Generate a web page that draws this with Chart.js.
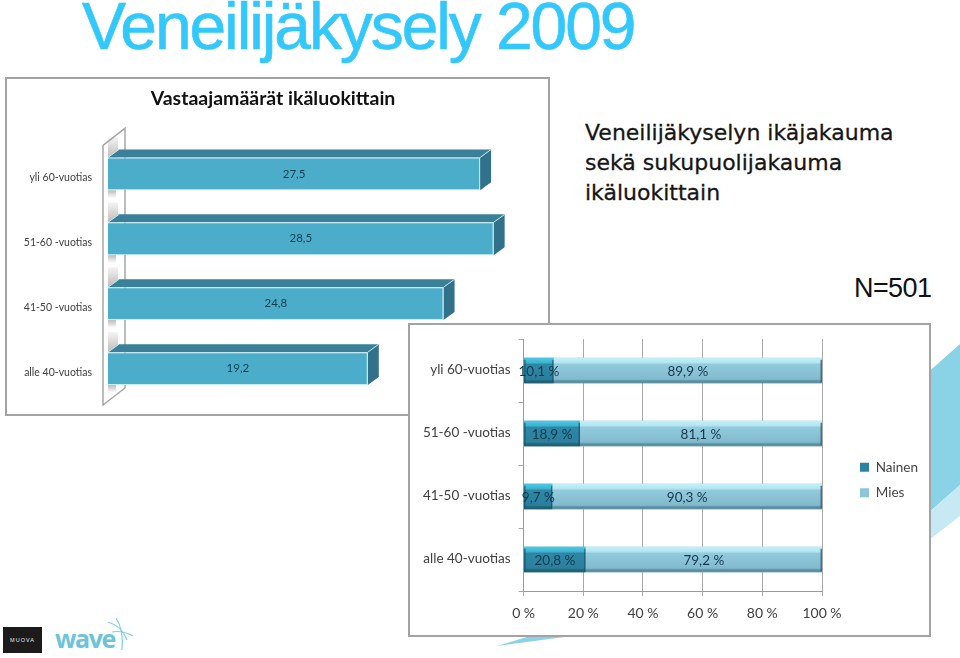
<!DOCTYPE html>
<html>
<head>
<meta charset="utf-8">
<title>Veneilijäkysely 2009</title>
<script src="https://cdn.jsdelivr.net/npm/chart.js@4/dist/chart.umd.min.js"></script>
<style>
html, body { margin: 0; width: 960px; height: 658px; overflow: hidden; background: #fff; }
.abs { position: absolute; white-space: nowrap; }
.panel { position: absolute; background: #fff; outline: 2px solid #a3a3a3; outline-offset: -2px; }
#heading { left: 82px; top: 1px; font: 66px/50px "Liberation Sans", sans-serif; color: #33c8fb; letter-spacing: -2.1px; -webkit-text-stroke: .6px #33c8fb; }
#subhead { left: 585px; top: 118px; font: 22px/30px "DejaVu Sans", sans-serif; color: #161616; -webkit-text-stroke: .3px #161616; }
#count { left: 854px; top: 273px; font: 27px "Liberation Sans", sans-serif; color: #111; letter-spacing: -.6px; }
#decor { position: absolute; left: 0; top: 0; }
#muova { left: 3px; top: 627px; width: 39px; height: 26px; background: #1c1a1a; color: #eee; font: 5.5px/26px "Liberation Sans", sans-serif; text-align: center; letter-spacing: 1px; }
#wave { left: 55px; top: 621px; font: bold 25px "Open Sans", sans-serif; color: #6cc3da; letter-spacing: -1.4px; }
</style>
</head>
<body>
<svg id="decor" width="960" height="658">
  <polygon points="925,375 960,344 960,485 925,516" fill="#8ad3e6"/>
  <polygon points="925,516 960,485 960,516 925,543" fill="#c6e9f3"/>
  <polygon points="497,646 530,636 572,636" fill="#8ad3e6"/>
  <g stroke="#7fd0e2" fill="none" stroke-width="1.2">
    <path d="M108 622 Q122 626 127 640"/>
    <path d="M116 618 Q124 630 122 650"/>
    <path d="M112 632 Q122 630 133 636"/>
  </g>
</svg>
<div class="abs" id="heading">Veneilijäkysely 2009</div>
<div class="abs" id="subhead">Veneilijäkyselyn ikäjakauma<br>sekä sukupuolijakauma<br>ikäluokittain</div>
<div class="abs" id="count">N=501</div>
<div class="abs" id="muova">MUOVA</div>
<div class="abs" id="wave">wave</div>

<div class="panel" style="left:5px;top:77px;width:545px;height:339px"><canvas id="ageChart" width="545" height="339"></canvas></div>
<div class="panel" style="left:408px;top:323px;width:523px;height:314px"><canvas id="genderChart" width="523" height="314"></canvas></div>

<script>
const ageGroups = ["yli 60-vuotias", "51-60 -vuotias", "41-50 -vuotias", "alle 40-vuotias"];
const respondents = [27.5, 28.5, 24.8, 19.2];
const women = [10.1, 18.9, 9.7, 20.8];
const men = [89.9, 81.1, 90.3, 79.2];
const percentTicks = [0, 20, 40, 60, 80, 100];

Chart.defaults.animation = false;
Chart.defaults.font.family = "Lato, sans-serif";

const comma = v => v.toFixed(1).replace(".", ",");

// value text in the middle of each bar
const barText = {
  id: "barText",
  afterDatasetsDraw(chart, args, opts) {
    const ctx = chart.ctx;
    ctx.save();
    ctx.font = opts.font;
    ctx.fillStyle = opts.color;
    ctx.textAlign = "center";
    ctx.textBaseline = "middle";
    chart.data.datasets.forEach((ds, i) => {
      chart.getDatasetMeta(i).data.forEach((bar, j) => {
        ctx.fillText(comma(ds.data[j]) + opts.suffix, (bar.x + bar.base) / 2, bar.y + opts.dy);
      });
    });
    ctx.restore();
  }
};

// fake 3D for the first chart: the wall behind the bars, top and side faces
const extrude = {
  id: "extrude",
  beforeDatasetsDraw(chart) {
    const ctx = chart.ctx, area = chart.chartArea;
    const dx = 11, dy = 8, wallX = area.left - 5, wallW = 22, wallRise = 17;
    const bars = chart.getDatasetMeta(0).data;
    ctx.save();

    bars.forEach(bar => {
      const top = bar.y - bar.height / 2, bottom = bar.y + bar.height / 2;
      let g = ctx.createLinearGradient(0, top - 24, 0, top);
      g.addColorStop(0, "rgba(150,140,140,0)");
      g.addColorStop(1, "rgba(150,140,140,.6)");
      ctx.fillStyle = g;
      ctx.fillRect(area.left, top - 20, 10, 20);
      g = ctx.createLinearGradient(0, bottom, 0, bottom + 8);
      g.addColorStop(0, "rgba(150,140,140,.6)");
      g.addColorStop(1, "rgba(150,140,140,0)");
      ctx.fillStyle = g;
      ctx.fillRect(area.left, bottom, 8, 8);
    });

    ctx.strokeStyle = "#a6a6a6";
    ctx.lineWidth = 1.5;
    ctx.beginPath();
    ctx.moveTo(wallX, area.top + 4);
    ctx.lineTo(wallX + wallW, area.top + 4 - wallRise);
    ctx.lineTo(wallX + wallW, area.bottom - 13);
    ctx.lineTo(wallX, area.bottom - 13 + wallRise);
    ctx.closePath();
    ctx.stroke();

    bars.forEach(bar => {
      const top = bar.y - bar.height / 2, bottom = bar.y + bar.height / 2;
      ctx.fillStyle = "#3a8099";
      ctx.beginPath();
      ctx.moveTo(bar.base, top);
      ctx.lineTo(bar.base + dx, top - dy);
      ctx.lineTo(bar.x + dx, top - dy);
      ctx.lineTo(bar.x, top);
      ctx.closePath();
      ctx.fill();
      ctx.fillStyle = "#31728a";
      ctx.beginPath();
      ctx.moveTo(bar.x, top);
      ctx.lineTo(bar.x + dx, top - dy);
      ctx.lineTo(bar.x + dx, bottom - dy);
      ctx.lineTo(bar.x, bottom);
      ctx.closePath();
      ctx.fill();
      ctx.strokeStyle = "#bfe8f0";
      ctx.lineWidth = 1;
      ctx.beginPath();
      ctx.moveTo(bar.x, top);
      ctx.lineTo(bar.x + dx, top - dy);
      ctx.moveTo(bar.base, top);
      ctx.lineTo(bar.base + dx, top - dy);
      ctx.stroke();
    });
    ctx.restore();
  }
};

// glossy bevel over the bars of the second chart
const bevel = {
  id: "bevel",
  afterDatasetsDraw(chart) {
    const ctx = chart.ctx;
    ctx.save();
    chart.getDatasetMeta(0).data.forEach((_, j) => {
      [0, 1].forEach(i => {
        const bar = chart.getDatasetMeta(i).data[j];
        const top = bar.y - bar.height / 2, h = bar.height;
        const w = bar.x - bar.base;
        const g = ctx.createLinearGradient(0, top, 0, top + h);
        g.addColorStop(0, i ? "#c2f0f9" : "#4cc9e4");
        g.addColorStop(.18, i ? "#b4e6f1" : "#3fb6d3");
        g.addColorStop(.26, i ? "#93cbdd" : "#2f87a6");
        g.addColorStop(.84, i ? "#81b9ce" : "#2a7f9d");
        g.addColorStop(.92, i ? "#55899c" : "#1f6179");
        g.addColorStop(1, i ? "#6f99a8" : "#2a5f72");
        ctx.fillStyle = g;
        ctx.fillRect(bar.base, top, w, h);
        ctx.fillStyle = i ? "rgba(40,90,110,.75)" : "rgba(20,80,100,.7)";
        ctx.fillRect(bar.x - 1.5, top + 2, 1.5, h - 3);
        if (!i) ctx.fillRect(bar.base, top + 2, 1.5, h - 3);
      });
    });
    ctx.restore();
  }
};

// legend sits apart from the plot, as in the original
const legendGap = {
  id: "legendGap",
  afterLayout(chart) {
    const l = chart.legend, w = l.right - l.left;
    l.left = 440;
    l.right = l.left + w;
    l.top -= 8;
    l.bottom -= 8;
  }
};

new Chart(document.getElementById("ageChart"), {
  type: "bar",
  data: {
    labels: ageGroups,
    datasets: [{
      data: respondents,
      backgroundColor: "#4badc9",
      borderColor: "#c5eef5",
      borderWidth: 1,
      categoryPercentage: 1,
      barPercentage: 0.505
    }]
  },
  options: {
    indexAxis: "y",
    responsive: false,
    layout: { padding: { right: 9, bottom: 15 } },
    scales: {
      x: { display: false, min: 0, max: 32 },
      y: {
        afterFit(s) { s.width = 103; },
        border: { display: false },
        grid: { display: false },
        ticks: { padding: 8, labelOffset: 4, color: "#404040", font: { size: 10.5 } }
      }
    },
    plugins: {
      legend: { display: false },
      title: {
        display: true,
        text: "Vastaajamäärät ikäluokittain",
        color: "#111",
        font: { size: 19.5, weight: "bold" },
        padding: { top: 10, bottom: 31 }
      },
      barText: { font: "11.5px Lato, sans-serif", color: "#123f50", suffix: "", dy: 0 }
    }
  },
  plugins: [extrude, barText]
});

new Chart(document.getElementById("genderChart"), {
  type: "bar",
  data: {
    labels: ageGroups,
    datasets: [
      { label: "Nainen", data: women, backgroundColor: "#2a83a2", categoryPercentage: 1, barPercentage: 0.405 },
      { label: "Mies", data: men, backgroundColor: "#8cc4d8", categoryPercentage: 1, barPercentage: 0.405 }
    ]
  },
  options: {
    indexAxis: "y",
    responsive: false,
    layout: { padding: { top: 16, right: 29 } },
    scales: {
      x: {
        stacked: true,
        min: 0,
        max: 100,
        afterFit(s) { s.height = 46; },
        afterBuildTicks(s) { s.ticks = percentTicks.map(v => ({ value: v })); },
        border: { color: "#9a9a9a" },
        grid: { color: "#a8a8a8", tickColor: "#a8a8a8", tickLength: 5 },
        ticks: {
          padding: 9,
          autoSkip: false,
          maxRotation: 0,
          color: "#404040",
          font: { size: 14 },
          callback: v => v + " %"
        }
      },
      y: {
        stacked: true,
        afterFit(s) { s.width = 115.6; },
        border: { color: "#9a9a9a" },
        grid: { color: "transparent", tickColor: "#a8a8a8", tickLength: 5 },
        ticks: { padding: 8, labelOffset: -1, color: "#404040", font: { size: 13.5 } }
      }
    },
    plugins: {
      title: { display: false },
      legend: {
        position: "right",
        labels: { boxWidth: 9, boxHeight: 9, padding: 12, color: "#454545", font: { size: 13.5 } }
      },
      barText: { font: "13.5px Lato, sans-serif", color: "#143a4c", suffix: " %", dy: 1 }
    }
  },
  plugins: [bevel, barText, legendGap]
});
</script>
</body>
</html>
